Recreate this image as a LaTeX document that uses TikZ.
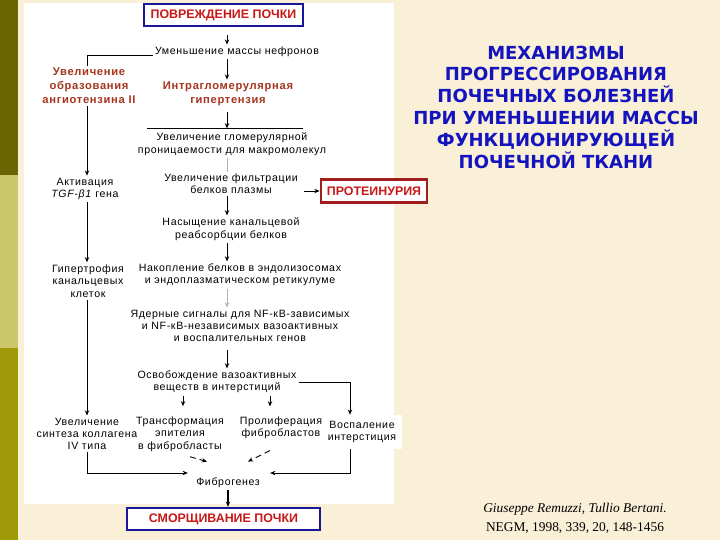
\documentclass[tikz,border=0pt]{standalone}
\usepackage{fontspec}
\setmainfont{Liberation Sans}
\newfontfamily\flowfont[LetterSpace=6]{Liberation Sans}
\newfontfamily\titlefont{DejaVu Sans}
\newfontfamily\citefont{Liberation Serif}
\usetikzlibrary{arrows.meta}
\definecolor{cream}{RGB}{250,240,216}
\definecolor{olivedark}{RGB}{108,101,4}
\definecolor{olivelight}{RGB}{204,198,108}
\definecolor{olivemid}{RGB}{160,154,8}
\definecolor{boxblue}{RGB}{24,24,150}
\definecolor{redtext}{RGB}{200,24,24}
\definecolor{protred}{RGB}{160,30,30}
\definecolor{browntext}{RGB}{165,52,30}
\definecolor{titleblue}{RGB}{20,20,190}
\begin{document}
\begin{tikzpicture}[x=0.5pt,y=-0.5pt,
  every node/.style={inner sep=1pt},
  small/.style={font=\flowfont\fontsize{5.3}{6.2}\selectfont, align=center},
  brownlbl/.style={font=\flowfont\bfseries\fontsize{5.6}{7}\selectfont, align=center, text=browntext},
  bigbox/.style={draw=boxblue, line width=1.2pt, fill=white, text=redtext,
     font=\bfseries\fontsize{6.2}{7}\selectfont, inner sep=0pt},
  protbox/.style={draw=protred, line width=1.4pt, fill=white, text=redtext,
     font=\bfseries\fontsize{6.2}{7}\selectfont, minimum width=53pt, minimum height=11.5pt, inner sep=0pt},
  arr/.style={-{Stealth[length=2.6pt,width=2.2pt]}, line width=0.45pt},
  ln/.style={line width=0.45pt},
  faint/.style={line width=0.4pt, draw=black!30}]
\useasboundingbox (0,0) rectangle (720,540);
\fill[cream] (0,0) rectangle (720,540);
\fill[olivedark] (0,0) rectangle (18,175);
\fill[olivelight] (0,175) rectangle (18,348);
\fill[olivemid] (0,348) rectangle (18,540);
\fill[white] (24,3) rectangle (394,504);
\coordinate (axis) at (227,0);
\coordinate (laxis) at (87,0);
\coordinate (baxis) at (228,0);

% nodes
\node[bigbox, minimum width=79.5pt, minimum height=11pt] (dmg) at (223.5,15) {ПОВРЕЖДЕНИЕ ПОЧКИ};
\node[small] (nephron) at (237,52) {Уменьшение массы нефронов};
\node[brownlbl] (angio) at (89,86) {Увеличение\\образования\\ангиотензина II};
\node[brownlbl] (hyper) at (228,94) {Интрагломерулярная\\гипертензия};
\node[small] (glom) at (232,144) {Увеличение гломерулярной\\проницаемости для макромолекул};
\node[small] (tgf) at (85,189) {Активация\\\textit{TGF-β1} гена};
\node[small] (filt) at (231,184) {Увеличение фильтрации\\белков плазмы};
\node[protbox] (prot) at (374,191) {ПРОТЕИНУРИЯ};
\node[small] (sat) at (231,229) {Насыщение канальцевой\\реабсорбции белков};
\node[small] (hypert) at (88,281) {Гипертрофия\\канальцевых\\клеток};
\node[small] (accum) at (240,275) {Накопление белков в эндолизосомах\\и эндоплазматическом ретикулуме};
\node[small] (nuc) at (240,326) {Ядерные сигналы для NF-кB-зависимых\\и NF-кB-независимых вазоактивных\\и воспалительных генов};
\node[small] (rel) at (217,382) {Освобождение вазоактивных\\веществ в интерстиций};
\node[small] (coll) at (87,434) {Увеличение\\синтеза коллагена\\IV типа};
\node[small] (trans) at (180,434) {Трансформация\\эпителия\\в фибробласты};
\node[small] (prolif) at (281,428) {Пролиферация\\фибробластов};
\node[small, fill=white, inner sep=3pt, minimum width=37pt, minimum height=16pt] (infl) at (362,432) {Воспаление\\интерстиция};
\node[small] (fib) at (228,483) {Фиброгенез};
\node[bigbox, minimum width=96.5pt, minimum height=11pt] (shrink) at (223.5,519) {СМОРЩИВАНИЕ ПОЧКИ};

\node[font=\titlefont\bfseries\fontsize{9}{10.9}\selectfont, text=titleblue, align=center] (title) at (556,107)
  {МЕХАНИЗМЫ\\ПРОГРЕССИРОВАНИЯ\\ПОЧЕЧНЫХ БОЛЕЗНЕЙ\\ПРИ УМЕНЬШЕНИИ МАССЫ\\ФУНКЦИОНИРУЮЩЕЙ\\ПОЧЕЧНОЙ ТКАНИ};
\node[font=\citefont\fontsize{6.7}{9.5}\selectfont, align=center] (cite) at (575,518)
  {\textit{Giuseppe Remuzzi, Tullio Bertani.}\\NEGM, 1998, 339, 20, 148-1456};

% connectors
\draw[arr, shorten <=4pt] (dmg.south -| axis) -- (nephron.north -| axis);
\draw[ln] ([yshift=-1.5pt]nephron.west) -| (angio.north -| laxis);
\draw[arr] (nephron.south -| axis) -- (hyper.north -| axis);
\draw[arr, shorten <=2pt] (hyper.south -| axis) -- ([shift={(0,-2)}]glom.north -| axis);
\draw[ln] ([shift={(-85,-2)}]glom.north) -- ([shift={(71,-2)}]glom.north);
\draw[arr] (angio.south -| laxis) -- (tgf.north -| laxis);
\draw[faint] (glom.south -| axis) -- (filt.north -| axis);
\draw[arr, shorten <=2pt] (prot.west -| filt.east) -- (prot.west);
\draw[arr] (filt.south -| axis) -- (sat.north -| axis);
\draw[arr] (tgf.south -| laxis) -- (hypert.north -| laxis);
\draw[arr] (sat.south -| axis) -- (accum.north -| axis);
\draw[faint, -{Stealth[length=2.6pt,width=2.2pt]}] (accum.south -| axis) -- (nuc.north -| axis);
\draw[arr, shorten <=3pt] (nuc.south -| axis) -- (rel.north -| axis);
\draw[arr] (hypert.south -| laxis) -- (coll.north -| laxis);
\draw[arr] (rel.east) -| ([xshift=-6pt]infl.north);
\draw[arr, shorten >=4pt] (rel.south -| axis) ++(-44,0) coordinate (r1) -- (r1 |- trans.north);
\draw[arr, shorten >=4pt] (rel.south -| axis) ++(43,0) coordinate (r2) -- (r2 |- prolif.north);
\draw[arr] (coll.south -| laxis) |- ([shift={(-6,-10)}]fib.west);
\draw[arr] ([xshift=-6pt]infl.south) |- ([shift={(8,-10)}]fib.east);
\draw[arr, densely dashed] ([shift={(10,3)}]trans.south) -- ([shift={(-21,-14)}]fib.north);
\draw[arr, densely dashed] ([shift={(-11,9)}]prolif.south) -- ([shift={(20,-14)}]fib.north);
\draw[arr, line width=0.6pt] (fib.south -| baxis) -- (shrink.north -| baxis);
\end{tikzpicture}
\end{document}
